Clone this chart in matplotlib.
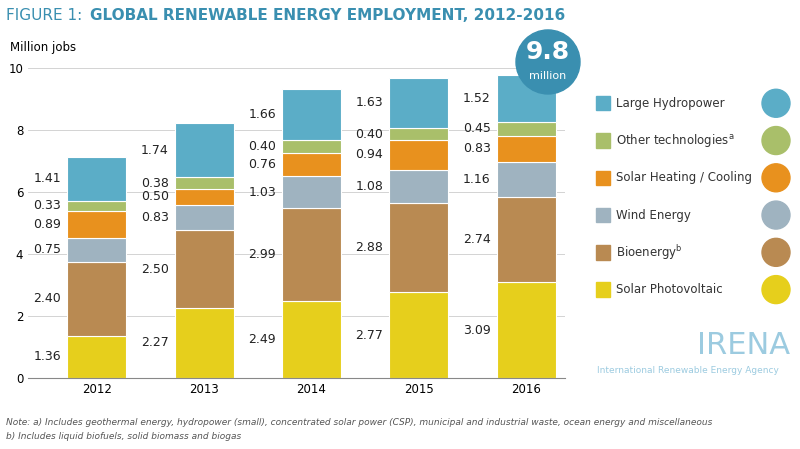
import matplotlib
matplotlib.use("Agg")
import matplotlib.pyplot as plt
from matplotlib.patches import Ellipse, Rectangle
import numpy as np

years = ["2012", "2013", "2014", "2015", "2016"]
pv    = [1.36, 2.27, 2.49, 2.77, 3.09]
bio   = [2.40, 2.50, 2.99, 2.88, 2.74]
wind  = [0.75, 0.83, 1.03, 1.08, 1.16]
heat  = [0.89, 0.50, 0.76, 0.94, 0.83]
other = [0.33, 0.38, 0.40, 0.40, 0.45]
hydro = [1.41, 1.74, 1.66, 1.63, 1.52]
values = [pv, bio, wind, heat, other, hydro]
colors = ["#e6cf1c", "#b98a52", "#9fb3c0", "#e8911e", "#a9bf6a", "#5badc7"]
legend_labels = ["Solar Photovoltaic", "Bioenergy$^{\\mathrm{b}}$", "Wind Energy", "Solar Heating / Cooling", "Other technologies$^{\\mathrm{a}}$", "Large Hydropower"]

W, H = 800, 449
fig = plt.figure(figsize=(8, 4.49), dpi=100)
ax = fig.add_axes([0.035, 0.158, 0.671, 0.69])
x = np.arange(len(years))
bottom = np.zeros(len(years))
for vals, c in zip(values, colors):
    ax.bar(x, vals, width=0.55, bottom=bottom, color=c, edgecolor="white", linewidth=0.8)
    for xi, b, v in zip(x, bottom, vals):
        ax.text(xi - 0.33, b + v / 2, f"{v:.2f}", ha="right", va="center", fontsize=9, color="#222222")
    bottom += np.array(vals)
ax.set_xlim(-0.64, 4.36)
ax.set_ylim(0, 10)
ax.set_xticks(x)
ax.set_xticklabels(years, fontsize=8.5)
ax.set_yticks([0, 2, 4, 6, 8, 10])
ax.tick_params(axis="y", labelsize=8.5, length=0)
ax.tick_params(axis="x", length=0)
ax.grid(axis="y", color="#cccccc", linewidth=0.6)
ax.set_axisbelow(True)
for s in ["top", "right", "left"]:
    ax.spines[s].set_visible(False)
ax.spines["bottom"].set_color("#888888")

fig.text(0.008, 0.965, "FIGURE 1: ", fontsize=11, color="#3a8fb0", va="center")
fig.text(0.112, 0.965, "GLOBAL RENEWABLE ENERGY EMPLOYMENT, 2012-2016", fontsize=11, color="#3a8fb0", fontweight="bold", va="center")
fig.text(0.012, 0.895, "Million jobs", fontsize=8.5, va="center")

def circle(cx, cy, rpx, color, z=5):
    e = Ellipse((cx, cy), 2 * rpx / W, 2 * rpx / H, transform=fig.transFigure, color=color, zorder=z)
    fig.patches.append(e)

circle(0.685, 0.862, 32, "#3a8fb0")
fig.text(0.685, 0.885, "9.8", fontsize=18, color="white", fontweight="bold", ha="center", va="center", zorder=6)
fig.text(0.685, 0.83, "million", fontsize=8, color="white", ha="center", va="center", zorder=6)

leg_y = [0.355, 0.438, 0.521, 0.604, 0.687, 0.770]
for lab, c, yy in zip(legend_labels, colors, leg_y):
    fig.patches.append(Rectangle((0.745, yy - 0.016), 0.018, 0.032, transform=fig.transFigure, color=c))
    fig.text(0.77, yy, lab, fontsize=8.5, va="center", color="#333333")
    circle(0.97, yy, 14, c)

fig.text(0.93, 0.23, "IRENA", fontsize=22, color="#9ccbe0", ha="center", va="center")
fig.text(0.86, 0.175, "International Renewable Energy Agency", fontsize=6.5, color="#9ccbe0", ha="center", va="center")

fig.text(0.008, 0.058, "Note: a) Includes geothermal energy, hydropower (small), concentrated solar power (CSP), municipal and industrial waste, ocean energy and miscellaneous",
         fontsize=6.5, style="italic", color="#555555", va="center")
fig.text(0.008, 0.028, "b) Includes liquid biofuels, solid biomass and biogas", fontsize=6.5, style="italic", color="#555555", va="center")

fig.savefig("out.png", dpi=100)
